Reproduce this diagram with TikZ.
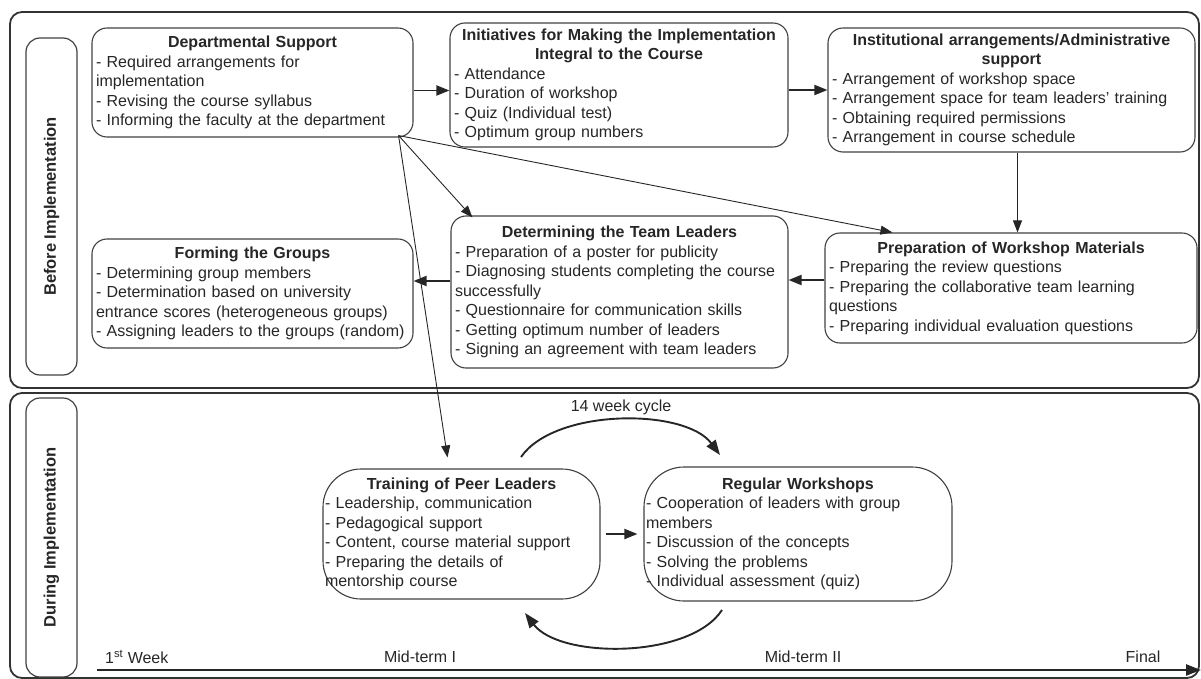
\documentclass[tikz,border=0pt]{standalone}
\usepackage{fontspec}
\setmainfont{Liberation Sans}
\usetikzlibrary{arrows.meta,positioning,calc}
\tikzset{panel/.style={draw=black!80, line width=1.8pt, rounded corners=12pt},
sidebox/.style={draw=black!75, line width=1.2pt, rounded corners=14pt, rotate=90,
inner sep=0pt, text=black!85, font=\fontsize{16.5}{19}\selectfont\bfseries},
stage/.style={draw=black!75, line width=1.1pt, rounded corners=15pt, inner xsep=4pt,
inner ysep=0pt, align=left, text=black!85},
link/.style={draw=black!85, line width=0.9pt, -{Triangle[length=12pt,width=9pt]}},
flow/.style={draw=black!85, line width=1.9pt, -{Triangle[length=13pt,width=10pt]}},
loop/.style={draw=black!85, line width=1.9pt, -{Triangle[length=15pt,width=11pt]}},
tick/.style={inner sep=0pt, text=black!85},
>={Triangle}}
\newcommand{\heading}[1]{\makebox[\linewidth][c]{\bfseries #1}}

\begin{document}
\begin{tikzpicture}[x=1pt,y=-1pt,font=\fontsize{16}{19.5}\selectfont]
  \useasboundingbox (0,0) rectangle (1201,679);

  % the two phases
  \draw [panel] (10,12) rectangle (1199,388);
  \draw [panel] (10,393) rectangle (1199,678);
  \node (before) [sidebox, minimum width=337pt, minimum height=51pt] at (51.5,206.5) {Before Implementation};
  \node (during) [sidebox, minimum width=279pt, minimum height=51pt] at (51.5,537.5) {During Implementation};

  % before implementation
  \node (dept) [stage, minimum width=321pt, minimum height=109pt, text width=313pt] at (252.5,82.5) {
    \heading{Departmental Support}\\
    - Required arrangements for\\
    implementation\\
    - Revising the course syllabus\\
    - Informing the faculty at the department};
  \node (init) [stage, minimum width=338pt, minimum height=124pt, text width=330pt] at (619,85) {
    \heading{Initiatives for Making the Implementation}\\
    \heading{Integral to the Course}\\
    - Attendance\\
    - Duration of workshop\\
    - Quiz (Individual test)\\
    - Optimum group numbers};
  \node (inst) [stage, minimum width=367pt, minimum height=124pt, text width=359pt] at (1011.5,90) {
    \heading{Institutional arrangements/Administrative}\\
    \heading{support}\\
    - Arrangement of workshop space\\
    - Arrangement space for team leaders' training\\
    - Obtaining required permissions\\
    - Arrangement in course schedule};
  \node (forming) [stage, minimum width=321pt, minimum height=109pt, text width=313pt] at (252.5,293.5) {
    \heading{Forming the Groups}\\
    - Determining group members\\
    - Determination based on university\\
    entrance scores (heterogeneous groups)\\
    - Assigning leaders to the groups (random)};
  \node (team) [stage, minimum width=337pt, minimum height=152pt, text width=329pt] at (619.5,292) {
    \heading{Determining the Team Leaders}\\
    - Preparation of a poster for publicity\\
    - Diagnosing students completing the course\\
    successfully\\
    - Questionnaire for communication skills\\
    - Getting optimum number of leaders\\
    - Signing an agreement with team leaders};
  \node (prep) [stage, minimum width=372pt, minimum height=110pt, text width=364pt] at (1011,288) {
    \heading{Preparation of Workshop Materials}\\
    - Preparing the review questions\\
    - Preparing the collaborative team learning\\
    questions\\
    - Preparing individual evaluation questions};

  % during implementation
  \node (train) [stage, rounded corners=38pt, inner xsep=2pt, minimum width=277pt, minimum height=130pt, text width=273pt] at (461.5,534) {
    \heading{Training of Peer Leaders}\\
    - Leadership, communication\\
    - Pedagogical support\\
    - Content, course material support\\
    - Preparing the details of\\
    mentorship course};
  \node (regular) [stage, rounded corners=40pt, inner xsep=2pt, minimum width=308pt, minimum height=134pt, text width=304pt] at (798,534) {
    \heading{Regular Workshops}\\
    - Cooperation of leaders with group\\
    members\\
    - Discussion of the concepts\\
    - Solving the problems\\
    - Individual assessment (quiz)};

  \draw [flow] ([yshift=-8pt]dept.east) -- ([yshift=-8pt]dept.east -| init.west);
  \draw [flow] ([yshift=-5pt]init.east) -- ([yshift=-5pt]init.east -| inst.west);
  \draw [link] ([xshift=6pt]inst.south) -- ([xshift=6pt]inst.south |- prep.north);
  \draw [flow] ([yshift=8pt]prep.west) -- ([yshift=8pt]prep.west -| team.east);
  \draw [flow] ([yshift=11pt]team.west) -- ([yshift=11pt]team.west -| forming.east);
  \draw [link] ([xshift=-15pt,yshift=2pt]dept.south east) -- ([xshift=22pt,yshift=-2pt]team.north west);
  \draw [link] ([xshift=-15pt,yshift=2pt]dept.south east) -- ([xshift=68pt]prep.north west);
  \draw [link] ([xshift=-15pt,yshift=2pt]dept.south east) -- ([xshift=-14pt,yshift=11pt]train.north);

  % 14 week cycle
  \coordinate (c1) at (521,457);
  \coordinate (c2) at (720,455);
  \coordinate (c3) at (722,610);
  \coordinate (c4) at (525,613);
  \draw [loop] (c1) .. controls (555,408) and (685,408) .. (c2);
  \draw [loop] (c3) .. controls (690,659) and (560,659) .. (c4);
  \node (cycle) [tick] at (621,407) {14 week cycle};
  \draw [flow] ([xshift=5pt]train.east) -- ([xshift=-6pt]regular.west);

  % time line
  \coordinate (t0) at (97,670);
  \coordinate (t1) at (1201,670);
  \draw [loop, line width=2.4pt] (t0) -- (t1);
  \node (week1) [tick, anchor=west] at (105,657) {1\textsuperscript{st} Week};
  \node (mid1) [tick] at (420,657) {Mid-term I};
  \node (mid2) [tick] at (803,657) {Mid-term II};
  \node (final) [tick] at (1143,657) {Final};
\end{tikzpicture}
\end{document}
